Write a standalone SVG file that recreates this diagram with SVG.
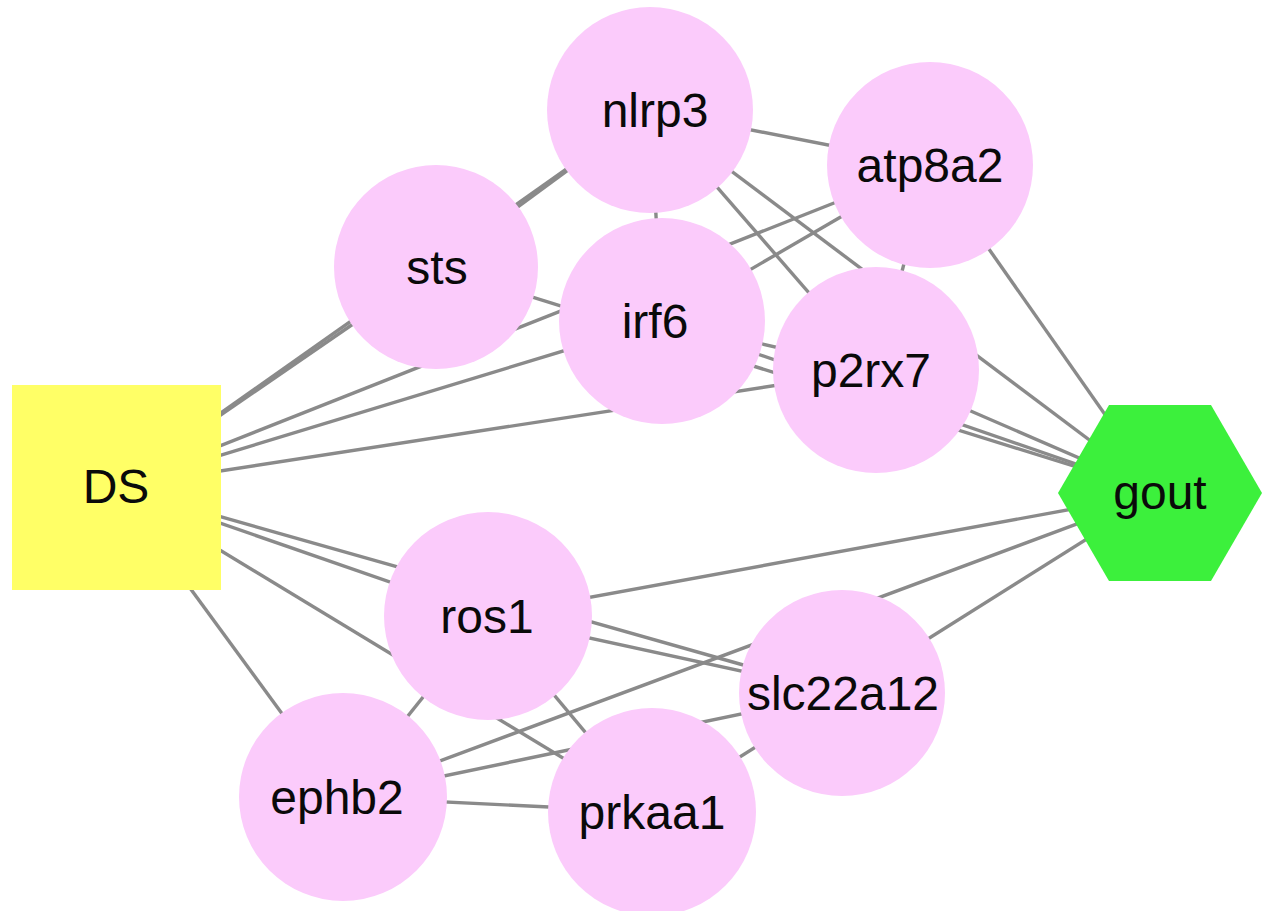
<svg xmlns="http://www.w3.org/2000/svg" width="1262" height="911" viewBox="0 0 1262 911">
<style>
.e{stroke:#8a8a8a;stroke-width:3.4;fill:none}
.g{fill:#fbcbfb}
.t{font-family:"Liberation Sans",Arial,sans-serif;font-size:48px;fill:#0a0a0a;text-anchor:middle}
</style>
<rect width="1262" height="911" fill="#fff"/>
<g id="edges">
<line class="e" x1="116" y1="487" x2="436" y2="267"/>
<line class="e" x1="116" y1="487" x2="650" y2="110"/>
<line class="e" x1="116" y1="487" x2="930" y2="165"/>
<line class="e" x1="116" y1="487" x2="662" y2="321"/>
<line class="e" x1="116" y1="487" x2="876" y2="370"/>
<line class="e" x1="116" y1="487" x2="488" y2="616"/>
<line class="e" x1="116" y1="487" x2="842" y2="693"/>
<line class="e" x1="116" y1="487" x2="652" y2="812"/>
<line class="e" x1="116" y1="487" x2="343" y2="797"/>
<line class="e" x1="1160" y1="493" x2="436" y2="267"/>
<line class="e" x1="1160" y1="493" x2="650" y2="110"/>
<line class="e" x1="1160" y1="493" x2="930" y2="165"/>
<line class="e" x1="1160" y1="493" x2="662" y2="321"/>
<line class="e" x1="1160" y1="493" x2="876" y2="370"/>
<line class="e" x1="1160" y1="493" x2="488" y2="616"/>
<line class="e" x1="1160" y1="493" x2="842" y2="693"/>
<line class="e" x1="1160" y1="493" x2="343" y2="797"/>
<line class="e" x1="436" y1="267" x2="650" y2="110"/>
<line class="e" x1="650" y1="110" x2="930" y2="165"/>
<line class="e" x1="650" y1="110" x2="662" y2="321"/>
<line class="e" x1="650" y1="110" x2="876" y2="370"/>
<line class="e" x1="662" y1="321" x2="930" y2="165"/>
<line class="e" x1="930" y1="165" x2="876" y2="370"/>
<line class="e" x1="662" y1="321" x2="876" y2="370"/>
<line class="e" x1="488" y1="616" x2="343" y2="797"/>
<line class="e" x1="488" y1="616" x2="652" y2="812"/>
<line class="e" x1="488" y1="616" x2="842" y2="693"/>
<line class="e" x1="343" y1="797" x2="652" y2="812"/>
<line class="e" x1="343" y1="797" x2="842" y2="693"/>
<line class="e" x1="652" y1="812" x2="842" y2="693"/>
</g>
<g id="DS"><rect x="12" y="385" width="209" height="205" fill="#ffff66"/><text class="t" x="116" y="503">DS</text></g>
<g id="gout"><polygon points="1058,493 1109,405 1211,405 1262,493 1211,581 1109,581" fill="#3cf03c"/><text class="t" x="1160" y="509">gout</text></g>
<g id="nlrp3"><circle class="g" cx="650" cy="110" r="103"/><text class="t" x="655" y="127">nlrp3</text></g>
<g id="atp8a2"><circle class="g" cx="930" cy="165" r="103"/><text class="t" x="930" y="182">atp8a2</text></g>
<g id="sts"><circle class="g" cx="436" cy="267" r="102"/><text class="t" x="437" y="284">sts</text></g>
<g id="irf6"><circle class="g" cx="662" cy="321" r="103"/><text class="t" x="655" y="338">irf6</text></g>
<g id="p2rx7"><circle class="g" cx="876" cy="370" r="103"/><text class="t" x="871" y="387">p2rx7</text></g>
<g id="ros1"><circle class="g" cx="488" cy="616" r="104"/><text class="t" x="487" y="633">ros1</text></g>
<g id="slc22a12"><circle class="g" cx="842" cy="693" r="103"/><text class="t" x="843" y="710">slc22a12</text></g>
<g id="ephb2"><circle class="g" cx="343" cy="797" r="104"/><text class="t" x="337" y="814">ephb2</text></g>
<g id="prkaa1"><circle class="g" cx="652" cy="812" r="104"/><text class="t" x="652" y="829">prkaa1</text></g>
</svg>
